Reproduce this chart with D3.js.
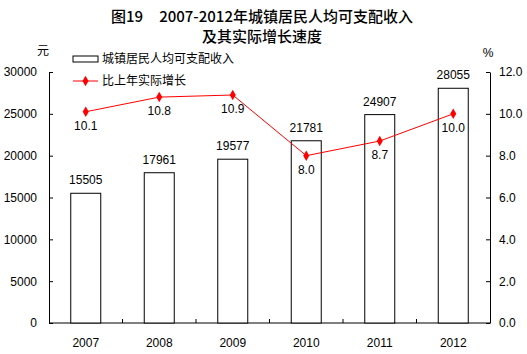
<!DOCTYPE html>
<html>
<head>
<meta charset="utf-8">
<script src="https://cdn.jsdelivr.net/npm/d3@7"></script>
<style>
  body { margin: 0; background: #fff; }
  svg text { font-family: "Liberation Sans", Arial, sans-serif; }
  .cjk { font-family: "Noto Sans CJK SC", sans-serif; }
</style>
</head>
<body>
<svg class="chart"></svg>
<script>
const width = 527;
const height = 354;

const years = ['2007', '2008', '2009', '2010', '2011', '2012'];
const income = [15505, 17961, 19577, 21781, 24907, 28055];
const growth = [10.1, 10.8, 10.9, 8.0, 8.7, 10.0];
const leftTicks = [0, 5000, 10000, 15000, 20000, 25000, 30000];
const rightTicks = [0, 2, 4, 6, 8, 10, 12];

const margin = { left: 49, right: 37, top: 72, bottom: 31 };
const plotW = width - margin.left - margin.right;
const plotH = height - margin.top - margin.bottom;

const svg = d3.select('svg.chart')
    .attr('width', width)
    .attr('height', height);

// title, two lines
const title1 = svg.append('text')
    .attr('class', 'cjk')
    .attr('x', 262)
    .attr('y', 22)
    .attr('text-anchor', 'middle')
    .attr('font-size', 15)
    .attr('font-weight', 500)
    .attr('fill', '#000');
title1.append('tspan').text('图19');
title1.append('tspan').attr('dx', 16).text('2007-2012年城镇居民人均可支配收入');

svg.append('text')
    .attr('class', 'cjk')
    .attr('x', 262)
    .attr('y', 42)
    .attr('text-anchor', 'middle')
    .attr('font-size', 15)
    .attr('font-weight', 500)
    .attr('fill', '#000')
    .text('及其实际增长速度');

const g = svg.append('g')
    .attr('transform', `translate(${margin.left},${margin.top})`);

const x = d3.scaleBand()
    .domain(years)
    .range([0, plotW]);

const yLeft = d3.scaleLinear()
    .domain([0, 30000])
    .range([plotH, 0]);

const yRight = d3.scaleLinear()
    .domain([0, 12])
    .range([plotH, 0]);

// left axis
const leftAxis = g.append('g')
    .call(d3.axisLeft(yLeft).tickValues(leftTicks).tickSizeInner(-4).tickSizeOuter(0).tickPadding(12)
        .tickFormat(d3.format('d')));
leftAxis.selectAll('text').attr('font-size', 12).attr('fill', '#000');

// right axis
const rightAxis = g.append('g')
    .attr('transform', `translate(${plotW},0)`)
    .call(d3.axisRight(yRight).tickValues(rightTicks).tickSizeInner(-4).tickSizeOuter(0).tickPadding(9)
        .tickFormat(d3.format('.1f')));
rightAxis.selectAll('text').attr('font-size', 12).attr('fill', '#000');

// bottom axis, ticks sit between categories
const bottom = g.append('g')
    .attr('transform', `translate(0,${plotH})`);
bottom.append('line')
    .attr('x1', 0).attr('x2', plotW)
    .attr('stroke', '#000');
bottom.selectAll('line.sep')
    .data(years.slice(1))
    .join('line')
    .attr('class', 'sep')
    .attr('x1', d => x(d)).attr('x2', d => x(d))
    .attr('y1', 0).attr('y2', -4)
    .attr('stroke', '#000');
bottom.selectAll('text')
    .data(years)
    .join('text')
    .attr('x', d => x(d) + x.bandwidth() / 2)
    .attr('y', 24)
    .attr('text-anchor', 'middle')
    .attr('font-size', 12)
    .attr('fill', '#000')
    .text(d => d);

svg.selectAll('.domain').attr('stroke', '#000');
svg.selectAll('.tick line').attr('stroke', '#000');

// units
svg.append('text').attr('class', 'cjk')
    .attr('x', 43).attr('y', 55)
    .attr('text-anchor', 'middle')
    .attr('font-size', 12)
    .text('元');
svg.append('text')
    .attr('x', 488).attr('y', 57)
    .attr('text-anchor', 'middle')
    .attr('font-size', 12)
    .text('%');

// bars
const barW = 30;
g.selectAll('rect.bar')
    .data(income)
    .join('rect')
    .attr('class', 'bar')
    .attr('x', (d, i) => x(years[i]) + x.bandwidth() / 2 - barW / 2)
    .attr('y', d => yLeft(d))
    .attr('width', barW)
    .attr('height', d => plotH - yLeft(d))
    .attr('fill', '#fff')
    .attr('stroke', '#000');

g.selectAll('text.barlabel')
    .data(income)
    .join('text')
    .attr('class', 'barlabel')
    .attr('x', (d, i) => x(years[i]) + x.bandwidth() / 2)
    .attr('y', d => yLeft(d) - 9)
    .attr('text-anchor', 'middle')
    .attr('font-size', 12)
    .attr('fill', '#000')
    .text(d => d);

// growth line
const red = '#ff0000';
const line = d3.line()
    .x((d, i) => x(years[i]) + x.bandwidth() / 2)
    .y(d => yRight(d));

g.append('path')
    .datum(growth)
    .attr('d', line)
    .attr('fill', 'none')
    .attr('stroke', red)
    .attr('stroke-width', 1);

const diamond = d3.symbol().type(d3.symbolDiamond).size(32);

g.selectAll('path.pt')
    .data(growth)
    .join('path')
    .attr('class', 'pt')
    .attr('d', diamond)
    .attr('transform', (d, i) => `translate(${x(years[i]) + x.bandwidth() / 2},${yRight(d)})`)
    .attr('fill', red);

g.selectAll('text.ptlabel')
    .data(growth)
    .join('text')
    .attr('class', 'ptlabel')
    .attr('x', (d, i) => x(years[i]) + x.bandwidth() / 2)
    .attr('y', d => yRight(d) + 18)
    .attr('text-anchor', 'middle')
    .attr('font-size', 12)
    .attr('fill', '#000')
    .text(d => d3.format('.1f')(d));

// legend
const legend = svg.append('g');
legend.append('rect')
    .attr('x', 73).attr('y', 56)
    .attr('width', 25).attr('height', 6)
    .attr('fill', '#fff')
    .attr('stroke', '#000');
legend.append('text').attr('class', 'cjk')
    .attr('x', 102).attr('y', 63)
    .attr('font-size', 12)
    .text('城镇居民人均可支配收入');
legend.append('line')
    .attr('x1', 73).attr('x2', 98)
    .attr('y1', 81).attr('y2', 81)
    .attr('stroke', red);
legend.append('path')
    .attr('d', diamond)
    .attr('transform', 'translate(85.5,81)')
    .attr('fill', red);
legend.append('text').attr('class', 'cjk')
    .attr('x', 102).attr('y', 85)
    .attr('font-size', 12)
    .text('比上年实际增长');
</script>
</body>
</html>
